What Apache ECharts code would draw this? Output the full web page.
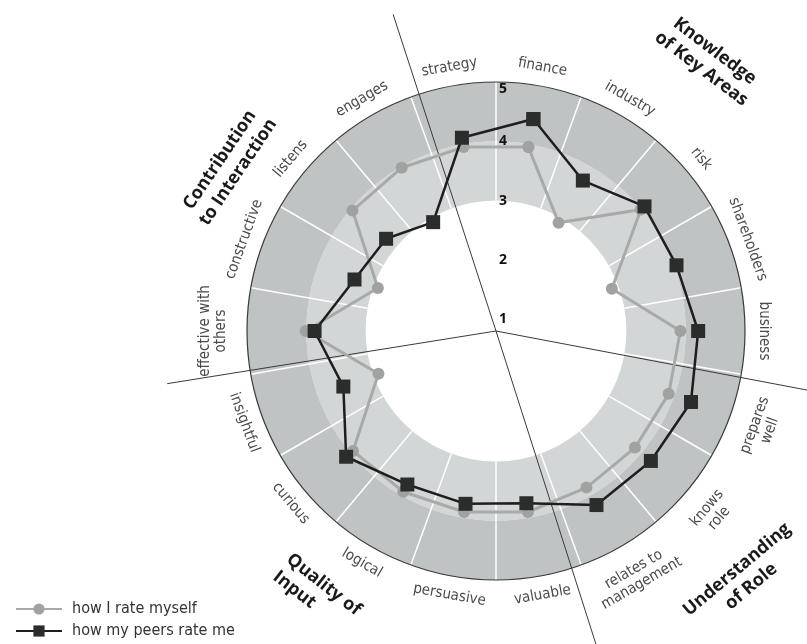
<!DOCTYPE html>
<html>
<head>
<meta charset="utf-8">
<title>Board evaluation radar</title>
<script src="https://cdn.jsdelivr.net/npm/echarts@6/dist/echarts.min.js"></script>
<style>
  html, body { margin: 0; padding: 0; background: #fff; }
  #chart { width: 807px; height: 644px; }
</style>
</head>
<body>
<div id="chart"></div>
<script>
// categories, clockwise starting just right of 12 o'clock
const categories = ['finance', 'industry', 'risk', 'shareholders', 'business',
  'prepares\nwell', 'knows\nrole', 'relates to\nmanagement', 'valuable', 'persuasive',
  'logical', 'curious', 'insightful', 'effective with\nothers', 'constructive',
  'listens', 'engages', 'strategy'];
const selfScores = [3.95, 2.91, 3.99, 2.88, 3.91, 3.90, 3.86, 3.85, 3.90, 3.90,
  3.93, 3.95, 2.91, 4.01, 2.92, 3.96, 3.98, 3.95];
const peerScores = [4.43, 3.73, 4.07, 4.04, 4.21, 4.30, 4.21, 4.19, 3.75, 3.76,
  3.79, 4.10, 3.54, 3.86, 3.34, 3.22, 2.92, 4.11];
const levels = [1, 2, 3, 4, 5];
// group divider rays, degrees counter-clockwise from 3 o'clock
const dividerAngles = [108, 287.7, 189.1, 349.25];

const labelFont = "'Liberation Sans Narrow', 'DejaVu Sans Condensed', sans-serif";
const titleFont = "'Open Sans', 'DejaVu Sans', sans-serif";

const center = [496, 331];
const outerR = 249;
const rMin = 0.8, rMax = 5;
// shaded rings start at level 3
const bandR = outerR * (3 - rMin) / (rMax - rMin);

// close the loop by repeating the first point
const loop = scores => categories.map((c, i) => [scores[i], i]).concat([[scores[0], 0]]);

const chart = echarts.init(document.getElementById('chart'));

const option = {
  animation: false,
  polar: [
    { center: center, radius: [bandR, outerR] },   // shaded rings
    { center: center, radius: outerR },            // data
    { center: center, radius: 333 }                // divider rays
  ],
  angleAxis: [
    {
      polarIndex: 0, type: 'category', data: categories,
      startAngle: 90, clockwise: true, boundaryGap: true,
      axisLine: { show: false }, axisTick: { show: false }, axisLabel: { show: false },
      splitLine: { show: true, lineStyle: { color: '#ffffff', width: 1.5 } }
    },
    {
      polarIndex: 1, type: 'category', data: categories,
      startAngle: 90, clockwise: true, boundaryGap: true, z: 1,
      axisLine: { show: true, lineStyle: { color: '#3a3a3a', width: 1.2 } },
      axisTick: { show: false }, axisLabel: { show: false },
      splitLine: { show: false }
    },
    {
      polarIndex: 2, type: 'value', min: 0, max: 360, startAngle: 0, clockwise: false,
      show: false, splitLine: { show: false }
    }
  ],
  radiusAxis: [
    {
      polarIndex: 0, min: 3, max: 5, interval: 1,
      axisLine: { show: false }, axisTick: { show: false }, axisLabel: { show: false },
      splitLine: { show: true, lineStyle: { color: ['rgba(0,0,0,0)', '#ffffff', 'rgba(0,0,0,0)'], width: 2 } },
      splitArea: { show: true, areaStyle: { color: ['#d3d6d6', '#c0c3c4'] } }
    },
    { polarIndex: 1, min: rMin, max: rMax, show: false, splitLine: { show: false } },
    { polarIndex: 2, min: 0, max: 1, show: false, splitLine: { show: false } }
  ],
  legend: {
    data: ['how I rate myself', 'how my peers rate me'],
    orient: 'vertical', left: 10, top: 596, itemGap: 6,
    itemWidth: 46, itemHeight: 14,
    textStyle: { fontSize: 16, color: '#333', fontFamily: labelFont, padding: [0, 0, 0, 5] }
  },
  graphic: [
    { type: 'text', x: 229, y: 166, rotation: 56 * Math.PI / 180,
      style: { text: 'Contribution\nto Interaction', font: 'bold 18px ' + titleFont, fill: '#1a1a1a', align: 'center', verticalAlign: 'middle', lineHeight: 22 } },
    { type: 'text', x: 708, y: 60, rotation: -37 * Math.PI / 180,
      style: { text: 'Knowledge\nof Key Areas', font: 'bold 18px ' + titleFont, fill: '#1a1a1a', align: 'center', verticalAlign: 'middle', lineHeight: 22 } },
    { type: 'text', x: 744, y: 578, rotation: 40 * Math.PI / 180,
      style: { text: 'Understanding\nof Role', font: 'bold 18px ' + titleFont, fill: '#1a1a1a', align: 'center', verticalAlign: 'middle', lineHeight: 22 } },
    { type: 'text', x: 282, y: 566, rotation: -38 * Math.PI / 180,
      style: { text: 'Quality of\nInput', font: 'bold 18px ' + titleFont, fill: '#1a1a1a', align: 'left', verticalAlign: 'middle', lineHeight: 22 } }
  ],
  series: [
    {
      // group divider rays
      type: 'custom', coordinateSystem: 'polar', polarIndex: 2, z: 2, silent: true,
      data: dividerAngles.map(a => [1, a]),
      renderItem: (params, api) => {
        const a = api.value(1);
        const p0 = api.coord([0, a]);
        const p1 = api.coord([1, a]);
        return { type: 'line', shape: { x1: p0[0], y1: p0[1], x2: p1[0], y2: p1[1] },
          style: { stroke: '#3a3a3a', lineWidth: 1 } };
      }
    },
    {
      name: 'how I rate myself', type: 'line', coordinateSystem: 'polar', polarIndex: 1,
      data: loop(selfScores), z: 3,
      symbol: 'circle', symbolSize: 12, showAllSymbol: true,
      itemStyle: { color: '#a0a2a2' },
      lineStyle: { color: '#a8aaaa', width: 3 }
    },
    {
      name: 'how my peers rate me', type: 'line', coordinateSystem: 'polar', polarIndex: 1,
      data: loop(peerScores), z: 4,
      symbol: 'rect', symbolSize: 14, showAllSymbol: true,
      itemStyle: { color: '#2b2d2d' },
      lineStyle: { color: '#1e1e1e', width: 2.5 }
    },
    {
      // category names, set tangentially round the rim
      type: 'custom', coordinateSystem: 'polar', polarIndex: 1, z: 5, silent: true,
      data: categories.map((c, i) => [c.indexOf('\n') >= 0 ? 5.58 : 5.32, i]),
      renderItem: (params, api) => {
        const cs = params.coordSys;
        const p = api.coord([api.value(0), api.value(1)]);
        const ang = Math.atan2(cs.cy - p[1], p[0] - cs.cx);
        const upper = Math.sin(ang) > -0.01;
        return {
          type: 'text', x: p[0], y: p[1],
          rotation: upper ? ang - Math.PI / 2 : ang + Math.PI / 2,
          style: { text: categories[params.dataIndex], fontSize: 15, fontFamily: labelFont,
            fill: '#4a4a4a', align: 'center', verticalAlign: 'middle', lineHeight: 16 }
        };
      }
    },
    {
      // level numbers along the 12 o'clock spoke
      type: 'custom', coordinateSystem: 'polar', polarIndex: 1, z: 5, silent: true,
      data: levels.map(l => [l, 0]),
      renderItem: (params, api) => {
        const cs = params.coordSys;
        const v = api.value(0);
        const p = api.coord([v, 0]);
        const r = Math.hypot(p[0] - cs.cx, p[1] - cs.cy);
        return {
          type: 'text', x: cs.cx + 3, y: cs.cy - r,
          style: { text: String(v), font: 'bold 14px ' + titleFont, fill: '#111',
            align: 'left', verticalAlign: v === levels[levels.length - 1] ? 'top' : 'middle' }
        };
      }
    }
  ]
};

chart.setOption(option);
</script>
</body>
</html>
